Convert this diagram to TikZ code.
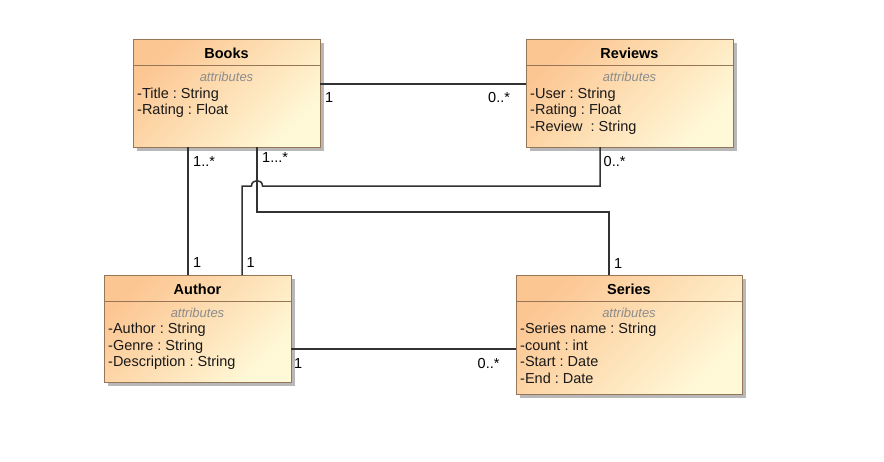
\documentclass[tikz,border=0pt]{standalone}
\usepackage{fontspec}
\setmainfont{Liberation Sans}
\frenchspacing
\usetikzlibrary{shadows}
\definecolor{boxtop}{RGB}{252,198,146}
\definecolor{boxbot}{RGB}{255,249,216}
\definecolor{boxline}{RGB}{150,118,86}
\definecolor{conn}{RGB}{50,50,50}
\definecolor{attrgray}{RGB}{140,140,140}
\definecolor{txt}{RGB}{25,25,25}
\tikzset{
  cls/.style={rectangle, draw=boxline, line width=1pt, inner sep=0pt, outer sep=0pt,
    top color=boxtop, bottom color=boxbot, shading angle=45,
    drop shadow={shadow xshift=4pt, shadow yshift=-4pt, fill=black!28, opacity=1}},
  sep/.style={draw=boxline, line width=1pt},
  ttl/.style={anchor=base, inner sep=0pt, font=\fontsize{14.5}{16.5}\selectfont\bfseries, text=black},
  attrhdr/.style={anchor=base, inner sep=0pt, font=\fontsize{13}{15}\selectfont\itshape, text=attrgray},
  attr/.style={anchor=base west, inner sep=0pt, font=\fontsize{14.5}{16.5}\selectfont, text=txt},
  lbl/.style={anchor=base west, inner sep=0pt, font=\fontsize{14.5}{16.5}\selectfont, text=black},
  cn/.style={draw=conn, line width=1.5pt},
}
\begin{document}
\begin{tikzpicture}[x=1pt,y=1pt]
\useasboundingbox (0,0) rectangle (884,-461);
% Books
\node[cls, minimum width=187pt, minimum height=108pt] (b) at (226.5,-93) {};
\draw[sep] ([yshift=-26pt]b.north west) -- ([yshift=-26pt]b.north east);
\node[ttl] (bt) at ([yshift=-19pt]b.north) {Books};
\node[attrhdr] (ba) at ([yshift=-42.5pt]b.north) {attributes};
\node[attr] (b1) at ([xshift=4pt,yshift=-59pt]b.north west) {-Title : String};
\node[attr] (b2) at ([xshift=4pt,yshift=-75.5pt]b.north west) {-Rating : Float};
% Reviews
\node[cls, minimum width=207pt, minimum height=108pt] (r) at (629.5,-93) {};
\draw[sep] ([yshift=-26pt]r.north west) -- ([yshift=-26pt]r.north east);
\node[ttl] (rt) at ([yshift=-19pt]r.north) {Reviews};
\node[attrhdr] (ra) at ([yshift=-42.5pt]r.north) {attributes};
\node[attr] (r1) at ([xshift=4pt,yshift=-59pt]r.north west) {-User : String};
\node[attr] (r2) at ([xshift=4pt,yshift=-75.5pt]r.north west) {-Rating : Float};
\node[attr] (r3) at ([xshift=4pt,yshift=-92pt]r.north west) {-Review \ : String};
% Author
\node[cls, minimum width=187pt, minimum height=107pt] (a) at (197.5,-328.5) {};
\draw[sep] ([yshift=-26pt]a.north west) -- ([yshift=-26pt]a.north east);
\node[ttl] (at) at ([yshift=-19pt]a.north) {Author};
\node[attrhdr] (aa) at ([yshift=-42.5pt]a.north) {attributes};
\node[attr] (a1) at ([xshift=4pt,yshift=-58.5pt]a.north west) {-Author : String};
\node[attr] (a2) at ([xshift=4pt,yshift=-75pt]a.north west) {-Genre : String};
\node[attr] (a3) at ([xshift=4pt,yshift=-91.5pt]a.north west) {-Description : String};
% Series
\node[cls, minimum width=226pt, minimum height=119pt] (s) at (629,-334.5) {};
\draw[sep] ([yshift=-26pt]s.north west) -- ([yshift=-26pt]s.north east);
\node[ttl] (st) at ([yshift=-19pt]s.north) {Series};
\node[attrhdr] (sa) at ([yshift=-42.5pt]s.north) {attributes};
\node[attr] (s1) at ([xshift=4pt,yshift=-58.5pt]s.north west) {-Series name : String};
\node[attr] (s2) at ([xshift=4pt,yshift=-75pt]s.north west) {-count : int};
\node[attr] (s3) at ([xshift=4pt,yshift=-91.5pt]s.north west) {-Start : Date};
\node[attr] (s4) at ([xshift=4pt,yshift=-108pt]s.north west) {-End : Date};
% connectors
\coordinate (c1) at ([yshift=-45pt]b.north east);
\draw[cn] (c1) -- (c1 -| r.west);
\coordinate (c2) at ([xshift=55pt]b.south west);
\draw[cn] (c2) -- (c2 |- a.north);
\coordinate (c3) at ([xshift=138pt]a.north west);
\coordinate (c3r) at ([xshift=74pt]r.south west);
\coordinate (h1) at (251.5,-186);
\coordinate (h2) at (262.5,-186);
\coordinate (c4) at ([xshift=124pt]b.south west);
\coordinate (c4s) at ([xshift=93pt]s.north west);
\coordinate (k4) at (0,-212);
\draw[cn] (c3) -- (c3 |- h1) -- (h1) .. controls (251.5,-178.8) and (262.5,-178.8) .. (h2) -- (c3r |- h2) -- (c3r);
\draw[cn] (c4) -- (c4 |- k4) -- (c4s |- k4) -- (c4s);
\coordinate (c5) at ([yshift=-74pt]a.north east);
\draw[cn] (c5) -- (c5 -| s.west);
% labels
\node[lbl] (l1) at (325,-102.5) {1};
\node[lbl] (l2) at (488,-102.5) {0..*};
\node[lbl] (l3) at (193,-166.5) {1..*};
\node[lbl] (l4) at (262,-162.5) {1...*};
\node[lbl] (l5) at (193,-267.5) {1};
\node[lbl] (l6) at (246.5,-267.5) {1};
\node[lbl] (l7) at (603.5,-166) {0..*};
\node[lbl] (l8) at (614,-268) {1};
\node[lbl] (l9) at (294,-368) {1};
\node[lbl] (l10) at (477.5,-368) {0..*};
\end{tikzpicture}
\end{document}
